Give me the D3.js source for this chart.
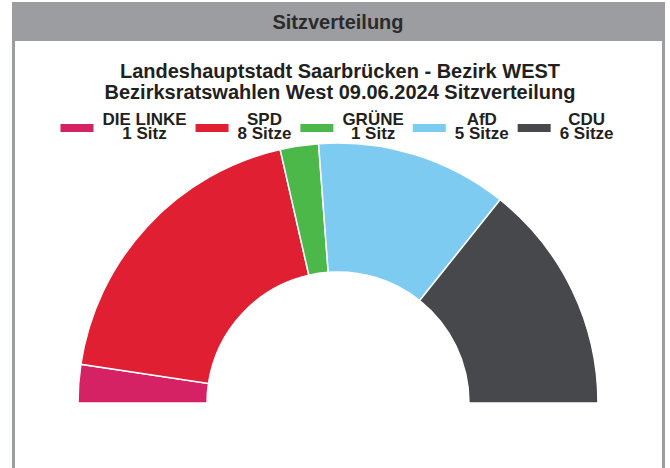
<!DOCTYPE html>
<html>
<head>
<meta charset="utf-8">
<script src="https://cdn.jsdelivr.net/npm/d3@7"></script>
<style>
  body { margin: 0; background: #fff; }
  text { font-family: "Liberation Sans", Arial, sans-serif; font-weight: bold; fill: #231f20; }
</style>
</head>
<body>
<svg id="chart" width="670" height="468"></svg>
<script>
var parties = ["DIE LINKE", "SPD", "GRÜNE", "AfD", "CDU"];
var seats = [1, 8, 1, 5, 6];
var seatLabels = ["1 Sitz", "8 Sitze", "1 Sitz", "5 Sitze", "6 Sitze"];
var colors = ["#d52265", "#e01f33", "#4cb84a", "#7dcbf0", "#46484b"];
var titleLines = ["Landeshauptstadt Saarbrücken - Bezirk WEST",
                  "Bezirksratswahlen West 09.06.2024 Sitzverteilung"];

var svg = d3.select("#chart");
var width = +svg.attr("width");
var height = +svg.attr("height");

// frame + header
svg.append("rect")
    .attr("x", 12).attr("y", 2)
    .attr("width", 653).attr("height", 39)
    .style("fill", "#9c9da0");
svg.append("rect")
    .attr("x", 12).attr("y", 2)
    .attr("width", 3).attr("height", height)
    .style("fill", "#9c9da0");
svg.append("rect")
    .attr("x", 662).attr("y", 2)
    .attr("width", 3).attr("height", height)
    .style("fill", "#9c9da0");
svg.append("text")
    .attr("x", 338).attr("y", 29)
    .attr("text-anchor", "middle")
    .style("font-size", "20px")
    .style("fill", "#2b2b2b")
    .text("Sitzverteilung");

// titles
svg.selectAll(".title")
    .data(titleLines)
    .enter().append("text")
    .attr("class", "title")
    .attr("x", 340)
    .attr("y", (d, i) => 78 + i * 21)
    .attr("text-anchor", "middle")
    .style("font-size", "20px")
    .text(d => d);

// legend
var legend = svg.append("g");
var items = legend.selectAll(".item")
    .data(parties)
    .enter().append("g")
    .attr("class", "item");
items.append("rect")
    .attr("width", 33).attr("height", 8)
    .attr("y", 124)
    .style("fill", (d, i) => colors[i]);
items.append("text")
    .attr("class", "l1")
    .attr("y", 125)
    .attr("text-anchor", "middle")
    .style("font-size", "17px")
    .text(d => d);
items.append("text")
    .attr("class", "l2")
    .attr("y", 139)
    .attr("text-anchor", "middle")
    .style("font-size", "17px")
    .text((d, i) => seatLabels[i]);

var widths = [];
items.each(function() {
    var g = d3.select(this);
    widths.push(Math.max(g.select(".l1").node().getComputedTextLength(),
                         g.select(".l2").node().getComputedTextLength()));
});
var gap = 9, itemGap = 9;
var total = d3.sum(widths) + parties.length * (33 + gap) + (parties.length - 1) * itemGap;
var xpos = 337 - total / 2;
items.each(function(d, i) {
    var g = d3.select(this);
    g.select("rect").attr("x", xpos);
    g.selectAll("text").attr("x", xpos + 33 + gap + widths[i] / 2);
    xpos += 33 + gap + widths[i] + itemGap;
});

// half donut
var cx = 338, cy = 403;
var pie = d3.pie()
    .sort(null)
    .startAngle(-Math.PI / 2)
    .endAngle(Math.PI / 2)
    .value(d => d);
var arc = d3.arc()
    .innerRadius(131)
    .outerRadius(260);

svg.append("g")
    .attr("transform", "translate(" + cx + "," + cy + ")")
    .selectAll(".slice")
    .data(pie(seats))
    .enter().append("path")
    .attr("class", "slice")
    .attr("d", arc)
    .style("fill", (d, i) => colors[i])
    .style("stroke", "#fff")
    .style("stroke-width", 1.5)
    .append("title")
    .text((d, i) => parties[i] + ": " + seatLabels[i]);
</script>
</body>
</html>
